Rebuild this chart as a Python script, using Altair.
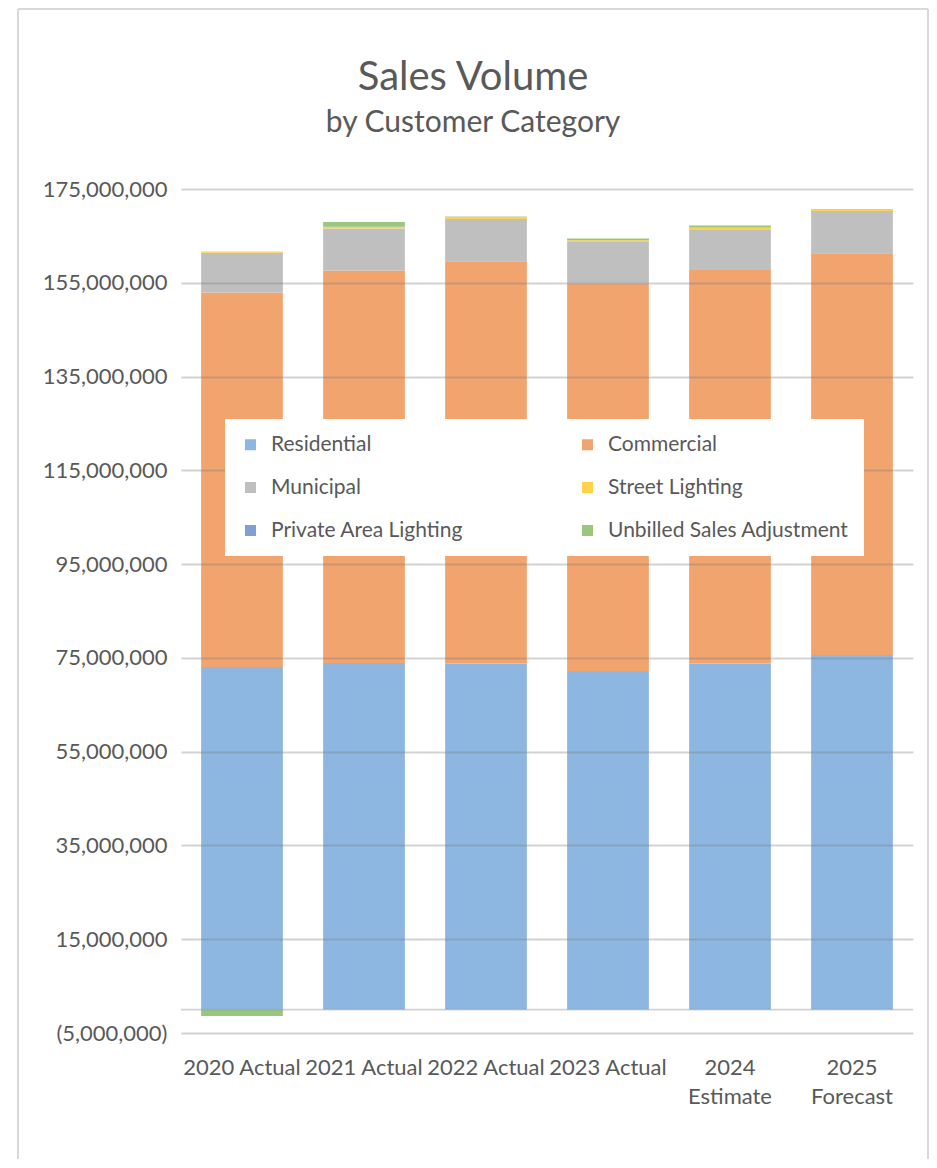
import altair as alt
import pandas as pd

years = ["2020 Actual", "2021 Actual", "2022 Actual", "2023 Actual", "2024 Estimate", "2025 Forecast"]
series = ["Residential", "Commercial", "Municipal", "Street Lighting",
          "Private Area Lighting", "Unbilled Sales Adjustment"]
colors = ["#8DB7E0", "#F2A46E", "#BFBFBF", "#FFD24A", "#7F9FD5", "#9BC67D"]

residential = [73050000, 73900000, 73800000, 72200000, 73800000, 75600000]
commercial = [79850000, 83700000, 85800000, 82600000, 83900000, 85700000]
municipal = [8500000, 9000000, 9000000, 8900000, 8700000, 9000000]
street_lighting = [250000, 300000, 500000, 350000, 350000, 400000]
private_area = [30000, 30000, 30000, 30000, 30000, 30000]
unbilled = [-1400000, 1050000, 0, 350000, 450000, 0]

values = [residential, commercial, municipal, street_lighting, private_area, unbilled]
rows = []
for si, (name, vals) in enumerate(zip(series, values)):
    for year, v in zip(years, vals):
        rows.append({"Year": year, "Category": name, "Value": v, "order": si})
df = pd.DataFrame(rows)

tick_values = [-5000000 + 20000000 * i for i in range(10)]
FONT = "Lato"
TXT = "#595959"
FRAME = "#d9d9d9"

label_expr = ("datum.value < 0 ? '(' + format(-datum.value, ',') + ')' : format(datum.value, ',')")

bars = alt.Chart(df).mark_bar().encode(
    x=alt.X("Year:N", sort=years, title=None,
            scale=alt.Scale(paddingInner=0.33, paddingOuter=0.165),
            axis=alt.Axis(labelAngle=0, labelFontSize=22, labelColor=TXT, labelFont=FONT,
                          labelPadding=24, ticks=False, domain=False, labelLimit=200,
                          labelLineHeight=29,
                          labelExpr="indexof(datum.label, 'Actual') >= 0 ? datum.label : split(datum.label, ' ')")),
    y=alt.Y("Value:Q", title=None,
            scale=alt.Scale(domain=[-5000000, 175000000], nice=False, zero=False),
            axis=alt.Axis(values=tick_values, labelExpr=label_expr, labelFontSize=22,
                          labelColor=TXT, labelFont=FONT, ticks=False, domain=False,
                          labelPadding=14, gridColor="#7f7f7f", gridOpacity=0.35,
                          gridWidth=1.8, zindex=1)),
    color=alt.Color("Category:N", sort=series,
                    scale=alt.Scale(domain=series, range=colors),
                    legend=alt.Legend(title=None, orient="none", legendX=44, legendY=230,
                                      columns=2, direction="horizontal",
                                      symbolType="square", symbolSize=121,
                                      symbolStrokeWidth=0, labelFontSize=21, labelColor=TXT,
                                      labelFont=FONT, fillColor="white", padding=15,
                                      rowPadding=21, columnPadding=113, labelOffset=10,
                                      zindex=2, labelLimit=300)),
    order=alt.Order("order:Q"),
)

zero_rule = alt.Chart(pd.DataFrame({"y": [0]})).mark_rule(
    color="#7f7f7f", opacity=0.35, strokeWidth=1.8
).encode(y="y:Q")

# thin chart-area frame (left, top, right edges)
frame_left = alt.Chart().mark_rule(color=FRAME, strokeWidth=2).encode(
    x=alt.value(-163), y=alt.value(-180), y2=alt.value(970))
frame_top = alt.Chart().mark_rule(color=FRAME, strokeWidth=2).encode(
    x=alt.value(-163), x2=alt.value(747), y=alt.value(-180))
frame_right = alt.Chart().mark_rule(color=FRAME, strokeWidth=2).encode(
    x=alt.value(747), y=alt.value(-180), y2=alt.value(970))

chart = alt.layer(frame_left, frame_top, frame_right, bars, zero_rule).properties(
    width=732, height=844,
    padding={"left": 9, "top": 0, "right": 0, "bottom": 0},
    title=alt.TitleParams(text="Sales Volume", subtitle="by Customer Category",
                          fontSize=40, subtitleFontSize=30, color=TXT, subtitleColor=TXT,
                          font=FONT, subtitleFont=FONT, fontWeight="normal",
                          anchor="middle", frame="bounds", offset=-130, subtitlePadding=10),
).configure(background="white").configure_view(strokeWidth=0)

chart.save("out.html", embed_options={"renderer": "svg", "actions": False})
